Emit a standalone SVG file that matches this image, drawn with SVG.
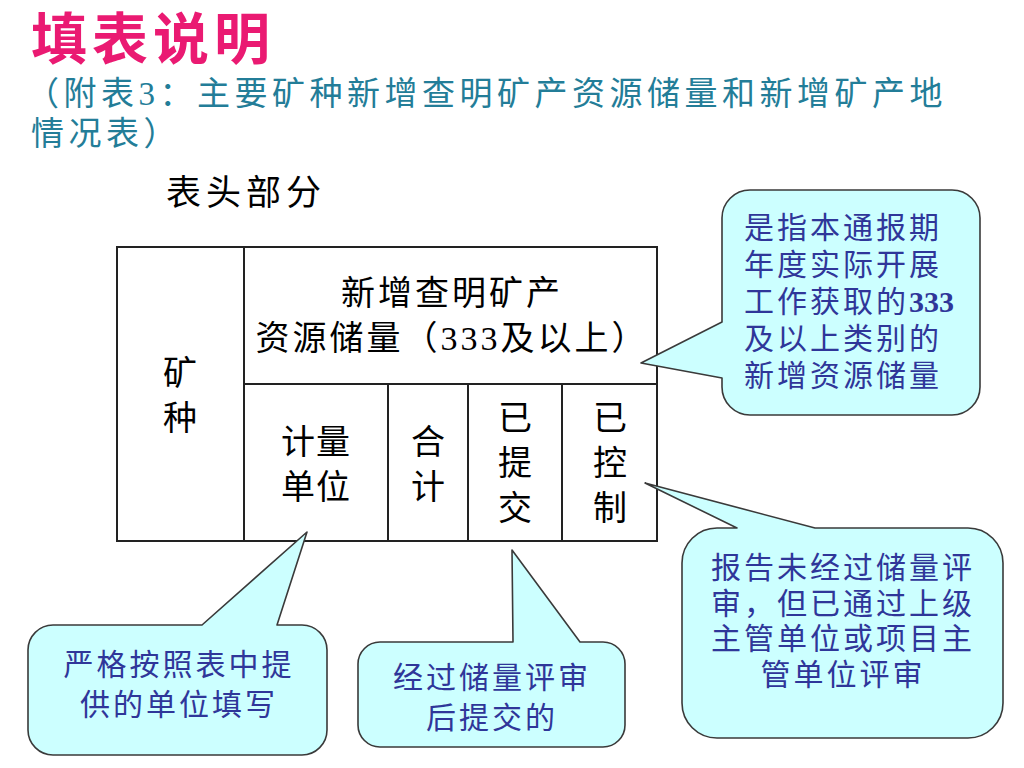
<svg xmlns="http://www.w3.org/2000/svg" width="1024" height="768" viewBox="0 0 1024 768">
  <style>
    .title { font-family: "Noto Sans CJK SC", sans-serif; font-weight: 700; font-size: 56px; fill: #EA1A72; letter-spacing: 5px; }
    .sub { font-family: "Liberation Serif", "Noto Sans CJK SC", serif; font-size: 33px; fill: #237D98; letter-spacing: 4.5px; }
    .head { font-family: "Liberation Serif", "Noto Sans CJK SC", serif; font-size: 35px; fill: #000; letter-spacing: 5px; }
    .cell { font-family: "Liberation Serif", "Noto Sans CJK SC", serif; font-size: 34px; fill: #000; letter-spacing: 3px; }
    .vcell { font-family: "Noto Sans CJK SC", sans-serif; font-size: 34px; fill: #000; text-anchor: middle; }
    .grid { fill: none; stroke: #222; stroke-width: 2; }
    .bubble { fill: #CCFFFF; stroke: #3A3A3A; stroke-width: 1.6; stroke-linejoin: round; }
    .btxt { font-family: "Liberation Serif", "Noto Sans CJK SC", sans-serif; font-size: 30px; fill: #2F3699; letter-spacing: 3px; }
    .mid { text-anchor: middle; }
  </style>

  <g id="title">
    <text class="title" x="31" y="59">填表说明</text>
    <text class="sub" x="26" y="105">（附表3：主要矿种新增查明矿产资源储量和新增矿产地</text>
    <text class="sub" x="31" y="145">情况表）</text>
    <text class="head" x="166" y="205">表头部分</text>
  </g>

  <g id="table">
    <rect class="grid" x="117" y="247" width="540" height="294"/>
    <line class="grid" x1="244" y1="247" x2="244" y2="541"/>
    <line class="grid" x1="244" y1="384" x2="657" y2="384"/>
    <line class="grid" x1="388" y1="384" x2="388" y2="541"/>
    <line class="grid" x1="468" y1="384" x2="468" y2="541"/>
    <line class="grid" x1="562" y1="384" x2="562" y2="541"/>
    <text class="cell mid" x="452" y="305">新增查明矿产</text>
    <text class="cell mid" x="452" y="350">资源储量（333及以上）</text>
    <text class="vcell" x="180" y="385">矿</text>
    <text class="vcell" x="180" y="430">种</text>
    <text class="vcell" x="316" y="454" letter-spacing="1">计量</text>
    <text class="vcell" x="316" y="499" letter-spacing="1">单位</text>
    <text class="vcell" x="428" y="454">合</text>
    <text class="vcell" x="428" y="499">计</text>
    <text class="vcell" x="515" y="430">已</text>
    <text class="vcell" x="515" y="475">提</text>
    <text class="vcell" x="515" y="520">交</text>
    <text class="vcell" x="610" y="430">已</text>
    <text class="vcell" x="610" y="475">控</text>
    <text class="vcell" x="610" y="520">制</text>
  </g>

  <g id="callout-reserves">
    <path class="bubble" d="M 750,190 H 952 A 28 28 0 0 1 980,218 V 387 A 28 28 0 0 1 952,415 H 750 A 28 28 0 0 1 722,387 V 378 L 641,363 L 722,322 V 218 A 28 28 0 0 1 750,190 Z"/>
    <text class="btxt" x="744" y="238" font-size="29" letter-spacing="2">是指本通报期</text>
    <text class="btxt" x="744" y="275" font-size="29" letter-spacing="2">年度实际开展</text>
    <text class="btxt" x="744" y="312" font-size="29" letter-spacing="2">工作获取的<tspan font-weight="700" letter-spacing="0">333</tspan></text>
    <text class="btxt" x="744" y="349" font-size="29" letter-spacing="2">及以上类别的</text>
    <text class="btxt" x="744" y="386" font-size="29" letter-spacing="2">新增资源储量</text>
  </g>

  <g id="callout-unit">
    <path class="bubble" d="M 53,625 H 202 L 307,532 L 277,625 H 302 A 25 25 0 0 1 327,650 V 730 A 25 25 0 0 1 302,755 H 53 A 25 25 0 0 1 28,730 V 650 A 25 25 0 0 1 53,625 Z"/>
    <text class="btxt mid" x="179" y="675" font-size="32" letter-spacing="3">严格按照表中提</text>
    <text class="btxt mid" x="179" y="715" font-size="32" letter-spacing="3">供的单位填写</text>
  </g>

  <g id="callout-submitted">
    <path class="bubble" d="M 380,642 H 513 L 512,550 L 580,642 H 603 A 22 22 0 0 1 625,664 V 725 A 22 22 0 0 1 603,747 H 380 A 22 22 0 0 1 358,725 V 664 A 22 22 0 0 1 380,642 Z"/>
    <text class="btxt mid" x="492" y="688">经过储量评审</text>
    <text class="btxt mid" x="492" y="728">后提交的</text>
  </g>

  <g id="callout-controlled">
    <path class="bubble" d="M 717,528 H 737 L 645,483 L 815,528 H 968 A 35 35 0 0 1 1003,563 V 703 A 35 35 0 0 1 968,738 H 717 A 35 35 0 0 1 682,703 V 563 A 35 35 0 0 1 717,528 Z"/>
    <text class="btxt mid" x="843" y="578">报告未经过储量评</text>
    <text class="btxt mid" x="843" y="614">审，但已通过上级</text>
    <text class="btxt mid" x="843" y="649">主管单位或项目主</text>
    <text class="btxt mid" x="843" y="685">管单位评审</text>
  </g>
</svg>
